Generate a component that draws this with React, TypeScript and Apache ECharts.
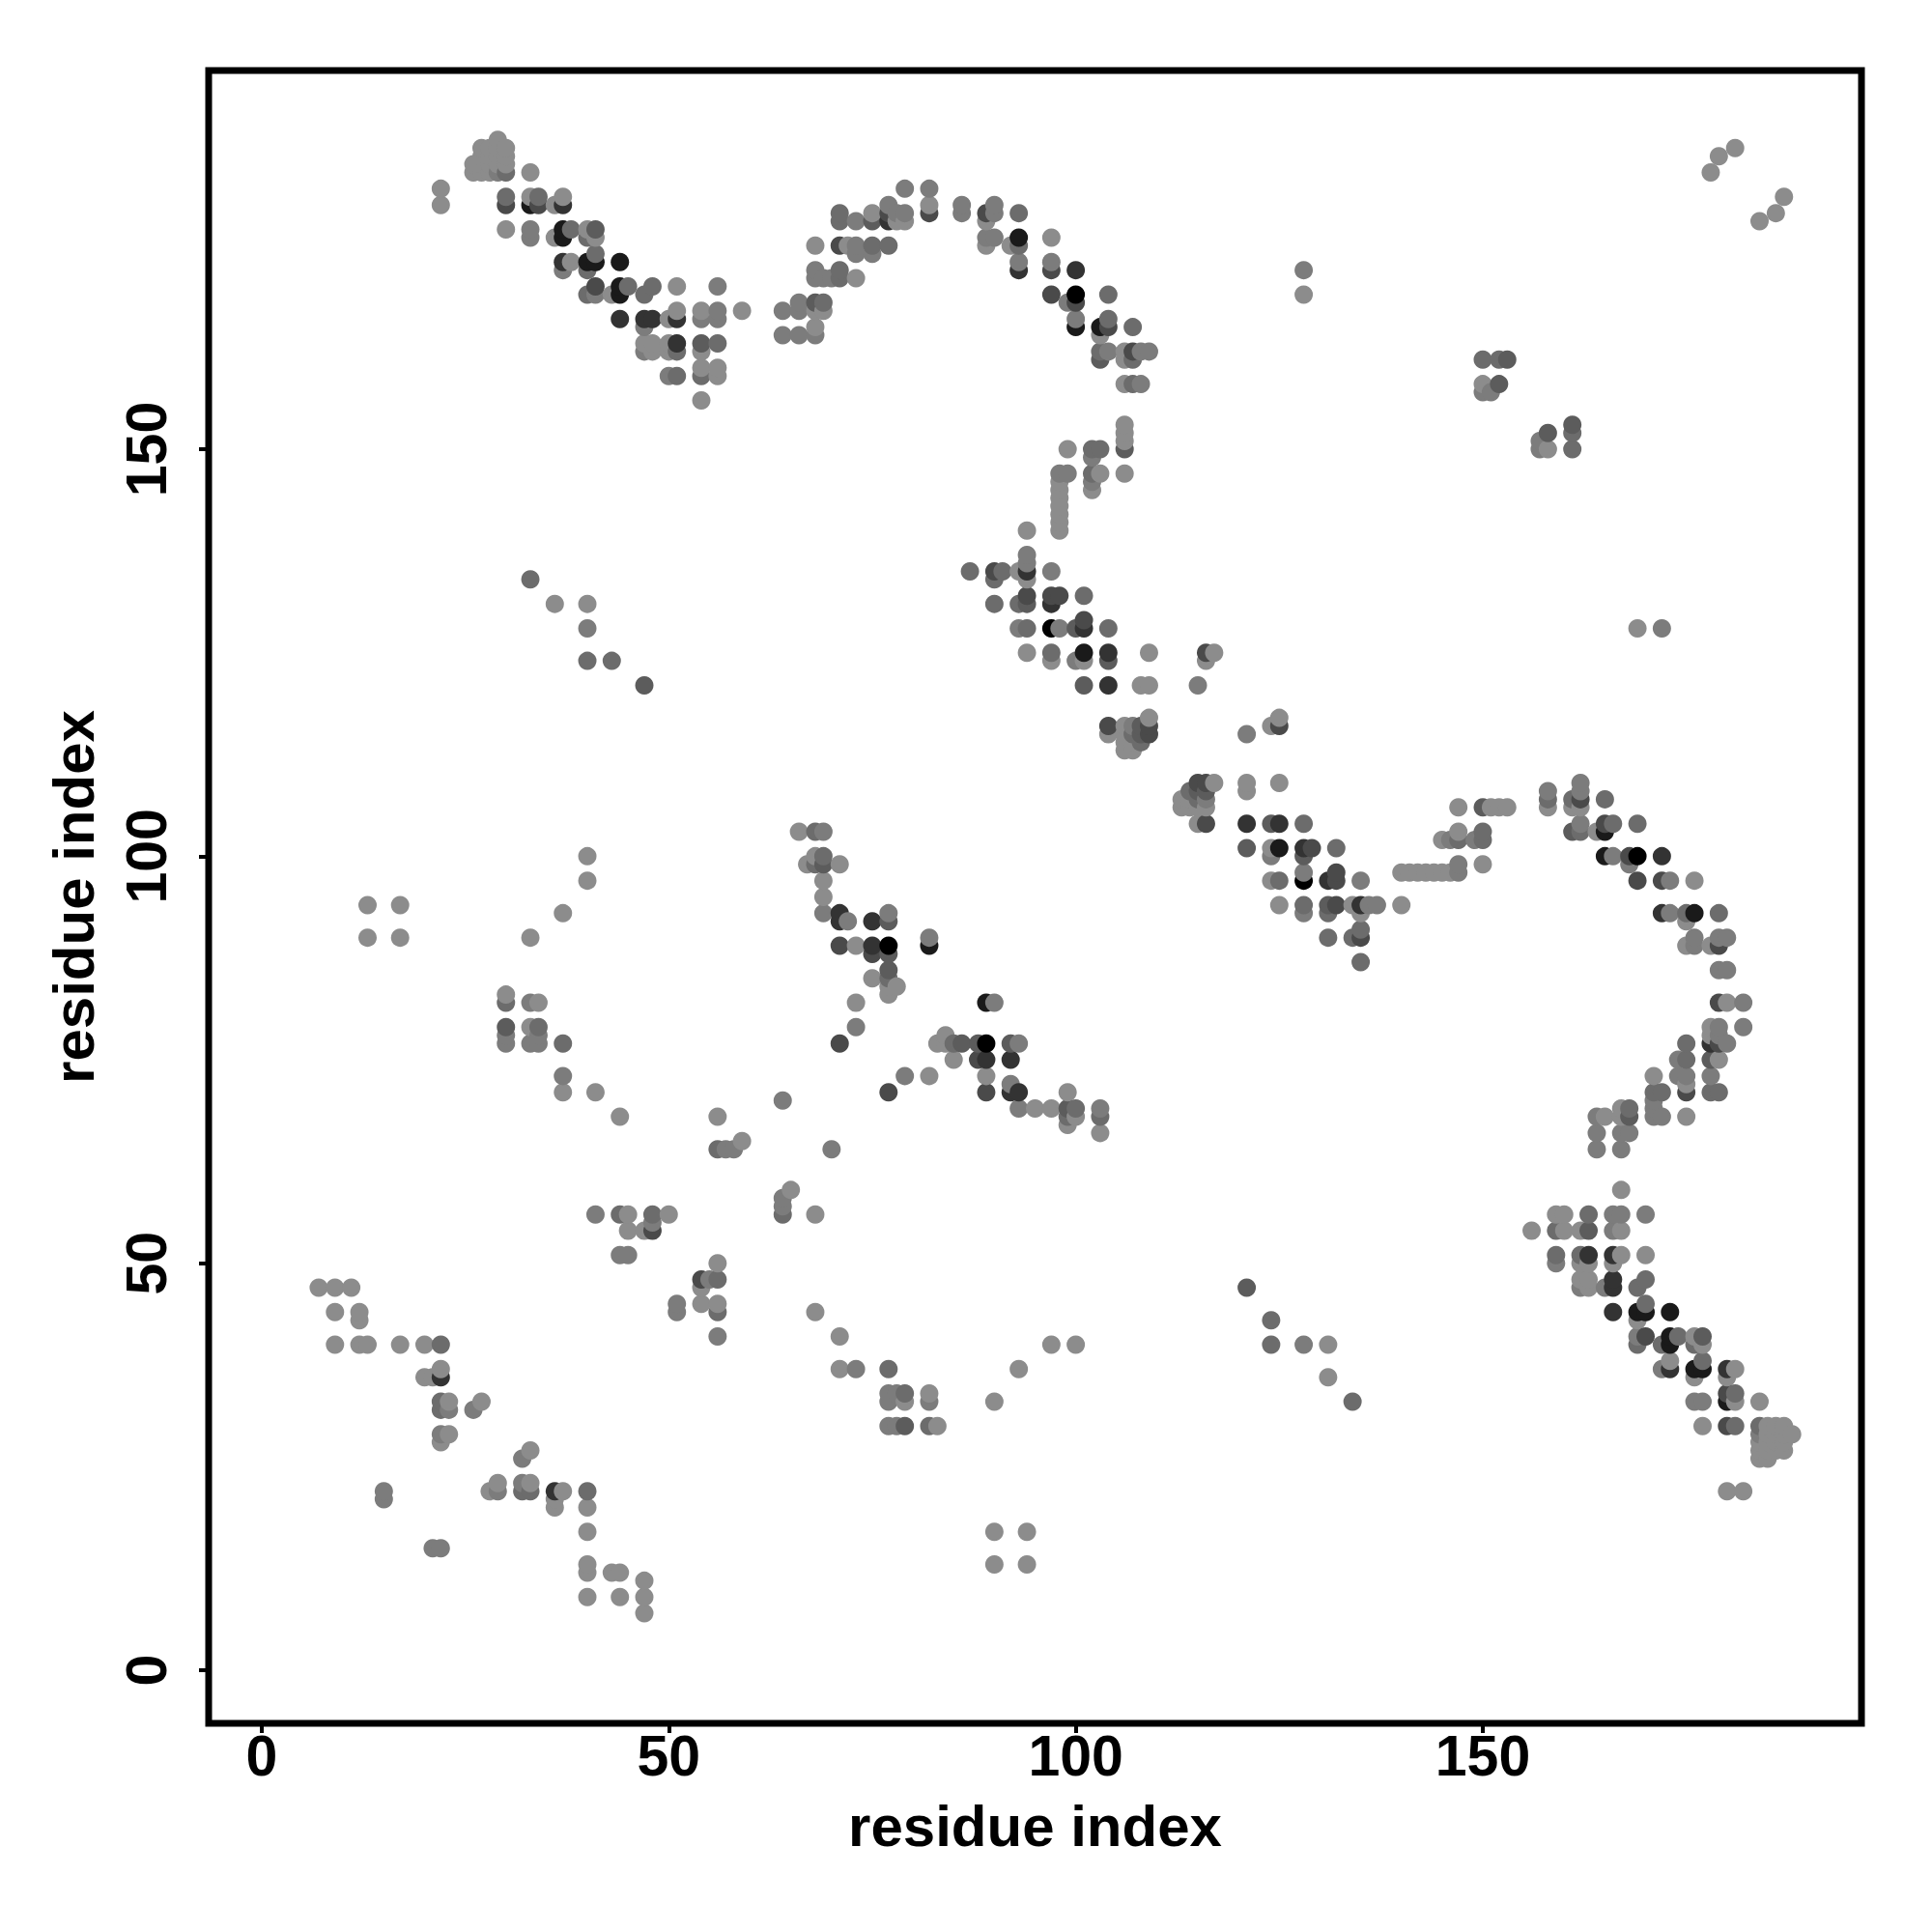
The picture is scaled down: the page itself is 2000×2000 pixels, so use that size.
import React, { useEffect, useRef } from "react";
import * as echarts from "echarts";

type Pair = [number, number];

// Residue contacts (i < j), grouped by how dark the mark is. The map is symmetric.
const shade000: Pair[] = [[100,169],[77,89],[97,128]];
const shade1a: Pair[] = [[33,180],[37,177],[37,176],[40,173],[41,173],[44,173],[44,170],[44,169],[93,176],[100,165],[103,165],[101,125],[82,89]];
const shade33: Pair[] = [[37,173],[37,180],[47,166],[48,166],[44,166],[51,166],[51,163],[77,178],[93,172],[100,172],[94,135],[97,131],[101,128],[104,125],[104,121],[71,93],[71,92],[75,92],[75,89],[22,36]];
const shade4a: Pair[] = [[30,180],[34,180],[41,170],[71,175],[77,179],[82,179],[89,179],[97,172],[97,169],[100,168],[104,165],[107,162],[90,135],[94,132],[97,132],[98,132],[101,129],[104,116],[109,116],[109,115],[116,125],[71,89],[71,77],[75,88],[48,54]];
const shade5c: Pair[] = [[41,177],[54,163],[75,178],[68,168],[103,161],[106,150],[94,131],[100,128],[101,121],[104,124],[108,116],[108,115],[69,99],[77,92],[77,88],[77,86],[30,79],[47,121],[152,158],[153,161]];
const shade6c: Pair[] = [[30,184],[30,181],[34,181],[38,177],[40,176],[41,174],[40,172],[40,169],[45,170],[47,169],[48,170],[51,162],[54,159],[51,159],[56,163],[69,168],[71,171],[71,172],[71,179],[71,178],[75,175],[77,175],[93,179],[93,175],[104,169],[103,162],[104,166],[107,165],[107,161],[107,158],[102,150],[103,150],[102,147],[87,135],[90,134],[91,135],[90,131],[93,131],[94,128],[101,132],[104,128],[97,125],[107,115],[108,114],[68,103],[68,99],[69,100],[77,85],[22,33],[22,32],[22,40],[37,77],[34,79],[30,82],[56,64],[44,56],[48,56],[33,134],[40,124],[43,124],[150,161],[152,161]];
const shade7c: Pair[] = [[29,184],[33,176],[33,177],[37,172],[41,169],[47,165],[47,162],[50,159],[56,170],[56,166],[54,166],[56,167],[64,167],[64,164],[66,168],[66,167],[66,164],[68,164],[68,172],[68,171],[69,171],[70,171],[73,175],[73,174],[73,178],[75,174],[77,180],[78,179],[79,179],[79,182],[82,182],[86,180],[86,179],[90,180],[90,179],[89,176],[90,176],[93,173],[97,173],[99,168],[100,166],[104,162],[108,162],[109,162],[108,158],[102,149],[102,146],[99,147],[98,147],[97,135],[93,128],[94,136],[94,137],[98,128],[100,124],[107,116],[115,121],[69,103],[69,93],[72,92],[77,93],[82,90],[73,79],[15,21],[15,22],[22,29],[23,32],[26,32],[30,78],[30,77],[33,82],[33,77],[34,77],[34,78],[37,73],[57,64],[58,64],[64,70],[41,56],[48,55],[44,51],[45,51],[40,128],[128,172],[150,157],[151,157]];
const shade8c: Pair[] = [[29,188],[27,187],[28,187],[29,187],[30,187],[26,185],[26,184],[27,186],[27,185],[27,184],[28,186],[28,185],[28,184],[29,186],[29,185],[30,186],[30,185],[33,184],[22,182],[22,180],[33,181],[36,180],[37,181],[30,177],[36,176],[38,173],[40,177],[41,176],[43,169],[51,170],[50,166],[51,167],[54,167],[59,167],[47,163],[48,163],[48,162],[50,163],[50,162],[54,162],[54,160],[56,160],[56,159],[54,156],[68,175],[68,165],[69,167],[68,167],[72,175],[73,171],[75,179],[78,178],[79,178],[82,180],[89,178],[89,175],[92,175],[97,176],[103,164],[106,162],[106,161],[106,158],[106,153],[106,152],[106,151],[99,150],[103,147],[102,145],[106,147],[98,146],[98,145],[98,144],[98,143],[98,142],[98,141],[98,140],[94,140],[94,134],[93,135],[94,125],[97,124],[101,124],[109,125],[108,121],[109,121],[104,115],[106,116],[106,115],[106,114],[106,113],[107,113],[107,114],[109,117],[116,124],[117,125],[66,103],[67,99],[68,100],[71,99],[69,97],[69,95],[73,89],[75,85],[78,84],[77,83],[77,84],[73,82],[7,47],[9,40],[9,44],[9,47],[11,47],[12,40],[12,43],[12,44],[13,40],[17,40],[20,36],[20,40],[21,36],[22,28],[22,37],[23,29],[23,33],[27,33],[13,94],[17,94],[13,90],[17,90],[33,90],[37,93],[40,97],[40,100],[30,83],[34,82],[33,79],[37,71],[41,71],[44,68],[56,68],[59,65],[45,56],[50,56],[45,54],[47,54],[36,131],[40,131],[128,169],[178,184],[179,186],[181,187],[150,158]];

const shadeGroups: [string, Pair[]][] = [
  ["#000000", shade000],
  ["#1a1a1a", shade1a],
  ["#333333", shade33],
  ["#4a4a4a", shade4a],
  ["#5c5c5c", shade5c],
  ["#6c6c6c", shade6c],
  ["#7c7c7c", shade7c],
  ["#8c8c8c", shade8c],
];

const tickValues = [0, 50, 100, 150];
const axisTitle = "residue index";
const axisMin = -6.52;
const axisMax = 196.52;

export default function App() {
  const ref = useRef<HTMLDivElement>(null);
  useEffect(() => {
    const chart = echarts.init(ref.current!, undefined, { renderer: "svg" });
    const points: { value: [number, number]; itemStyle: { color: string; opacity: number } }[] = [];
    for (const [color, pairs] of shadeGroups) {
      for (const [i, j] of pairs) {
        points.push({ value: [i, j], itemStyle: { color, opacity: 1 } });
        points.push({ value: [j, i], itemStyle: { color, opacity: 1 } });
      }
    }
    points.sort((a, b) => a.value[0] - b.value[0] || a.value[1] - b.value[1]);

    const tickFont = { fontFamily: "Liberation Sans", fontWeight: "bold" as const, fontSize: 59, color: "#000" };
    const titleFont = { ...tickFont, fontSize: 60 };
    const axisCommon = {
      type: "value" as const,
      min: axisMin,
      max: axisMax,
      splitLine: { show: false },
      axisLine: { show: false, onZero: false },
      axisTick: { show: true, length: 10, customValues: tickValues, lineStyle: { color: "#000", width: 4 } },
      name: axisTitle,
      nameLocation: "middle" as const,
      nameTextStyle: titleFont,
    };
    chart.setOption({
      animation: false,
      backgroundColor: "#ffffff",
      grid: { left: 216, top: 73, width: 1711, height: 1711, show: true, borderColor: "#000", borderWidth: 7, backgroundColor: "transparent" },
      xAxis: {
        ...axisCommon,
        nameGap: 76,
        axisLabel: { ...tickFont, margin: 4, customValues: tickValues },
      },
      yAxis: {
        ...axisCommon,
        nameGap: 110,
        axisLabel: { ...tickFont, margin: 35, rotate: 90, customValues: tickValues },
      },
      series: [
        {
          type: "scatter",
          symbol: "circle",
          symbolSize: 19,
          itemStyle: { opacity: 1 },
          data: points,
          silent: true,
        },
      ],
    });
    return () => chart.dispose();
  }, []);
  return <div ref={ref} style={{ position: "absolute", left: 0, top: 0, width: 2000, height: 2000, background: "#fff" }} />;
}
